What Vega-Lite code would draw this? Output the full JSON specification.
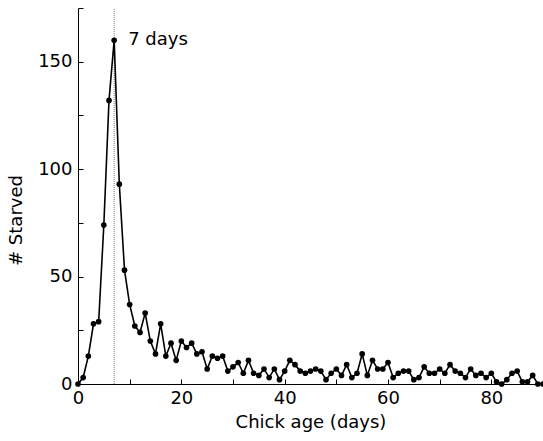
{
  "$schema": "https://vega.github.io/schema/vega-lite/v6.json",
  "width": 465,
  "height": 376,
  "autosize": "none",
  "padding": {"left": 78, "top": 8, "right": 0, "bottom": 57},
  "background": "white",
  "config": {
    "view": {"stroke": null},
    "font": "DejaVu Sans",
    "axis": {"grid": false, "domainColor": "black", "tickColor": "black", "labelColor": "black", "titleColor": "black", "labelFont": "DejaVu Sans", "titleFont": "DejaVu Sans", "labelFontSize": 18, "titleFontSize": 18, "titleFontWeight": "normal", "tickSize": -5, "domainWidth": 1, "tickWidth": 1}
  },
  "datasets": {
    "starved": [
      {"day": 0, "n": 0}, {"day": 1, "n": 3}, {"day": 2, "n": 13}, {"day": 3, "n": 28}, {"day": 4, "n": 29},
      {"day": 5, "n": 74}, {"day": 6, "n": 132}, {"day": 7, "n": 160}, {"day": 8, "n": 93}, {"day": 9, "n": 53},
      {"day": 10, "n": 37}, {"day": 11, "n": 27}, {"day": 12, "n": 24}, {"day": 13, "n": 33}, {"day": 14, "n": 20},
      {"day": 15, "n": 14}, {"day": 16, "n": 28}, {"day": 17, "n": 13}, {"day": 18, "n": 19}, {"day": 19, "n": 11},
      {"day": 20, "n": 20}, {"day": 21, "n": 17}, {"day": 22, "n": 19}, {"day": 23, "n": 14}, {"day": 24, "n": 15},
      {"day": 25, "n": 7}, {"day": 26, "n": 13}, {"day": 27, "n": 12}, {"day": 28, "n": 13}, {"day": 29, "n": 6},
      {"day": 30, "n": 8}, {"day": 31, "n": 10}, {"day": 32, "n": 5}, {"day": 33, "n": 11}, {"day": 34, "n": 5},
      {"day": 35, "n": 4}, {"day": 36, "n": 7}, {"day": 37, "n": 3}, {"day": 38, "n": 7}, {"day": 39, "n": 2},
      {"day": 40, "n": 6}, {"day": 41, "n": 11}, {"day": 42, "n": 9}, {"day": 43, "n": 6}, {"day": 44, "n": 5},
      {"day": 45, "n": 6}, {"day": 46, "n": 7}, {"day": 47, "n": 6}, {"day": 48, "n": 2}, {"day": 49, "n": 5},
      {"day": 50, "n": 7}, {"day": 51, "n": 4}, {"day": 52, "n": 9}, {"day": 53, "n": 3}, {"day": 54, "n": 5},
      {"day": 55, "n": 14}, {"day": 56, "n": 4}, {"day": 57, "n": 11}, {"day": 58, "n": 7}, {"day": 59, "n": 7},
      {"day": 60, "n": 10}, {"day": 61, "n": 3}, {"day": 62, "n": 5}, {"day": 63, "n": 6}, {"day": 64, "n": 6},
      {"day": 65, "n": 2}, {"day": 66, "n": 3}, {"day": 67, "n": 8}, {"day": 68, "n": 5}, {"day": 69, "n": 5},
      {"day": 70, "n": 7}, {"day": 71, "n": 5}, {"day": 72, "n": 9}, {"day": 73, "n": 6}, {"day": 74, "n": 5},
      {"day": 75, "n": 3}, {"day": 76, "n": 7}, {"day": 77, "n": 4}, {"day": 78, "n": 5}, {"day": 79, "n": 3},
      {"day": 80, "n": 5}, {"day": 81, "n": 1}, {"day": 82, "n": 0}, {"day": 83, "n": 2}, {"day": 84, "n": 5},
      {"day": 85, "n": 6}, {"day": 86, "n": 1}, {"day": 87, "n": 1}, {"day": 88, "n": 4}, {"day": 89, "n": 0},
      {"day": 90, "n": 0}
    ],
    "peak": [{"day": 7, "n": 160, "label": "7 days"}]
  },
  "encoding": {
    "x": {"field": "day", "type": "quantitative", "scale": {"domain": [0, 90], "nice": false, "zero": false}, "axis": {"title": "Chick age (days)", "values": [0, 10, 20, 30, 40, 50, 60, 70, 80, 90], "labelExpr": "datum.value % 20 == 0 && datum.value < 90 ? datum.label : ''", "labelPadding": 10, "titlePadding": 6, "labelFlush": false, "labelOverlap": false}},
    "y": {"field": "n", "type": "quantitative", "scale": {"domain": [0, 175], "nice": false}, "axis": {"title": "# Starved", "values": [0, 25, 50, 75, 100, 125, 150, 175], "labelExpr": "datum.value % 50 == 0 ? datum.label : ''", "labelPadding": 11, "titlePadding": 12, "titleY": 212, "labelOverlap": false}}
  },
  "layer": [
    {
      "data": {"name": "peak"},
      "mark": {"type": "rule", "color": "#777777", "strokeDash": [1, 1], "strokeWidth": 1},
      "encoding": {"x": {"field": "day", "type": "quantitative"}, "y": {"datum": 0}, "y2": {"datum": 175}}
    },
    {
      "data": {"name": "starved"},
      "mark": {"type": "line", "color": "black", "strokeWidth": 1.6, "point": {"filled": true, "color": "black", "size": 32, "opacity": 1}}
    },
    {
      "data": {"name": "peak"},
      "mark": {"type": "text", "align": "left", "baseline": "middle", "dx": 14, "fontSize": 18, "font": "DejaVu Sans", "color": "black"},
      "encoding": {"text": {"field": "label"}}
    }
  ]
}
